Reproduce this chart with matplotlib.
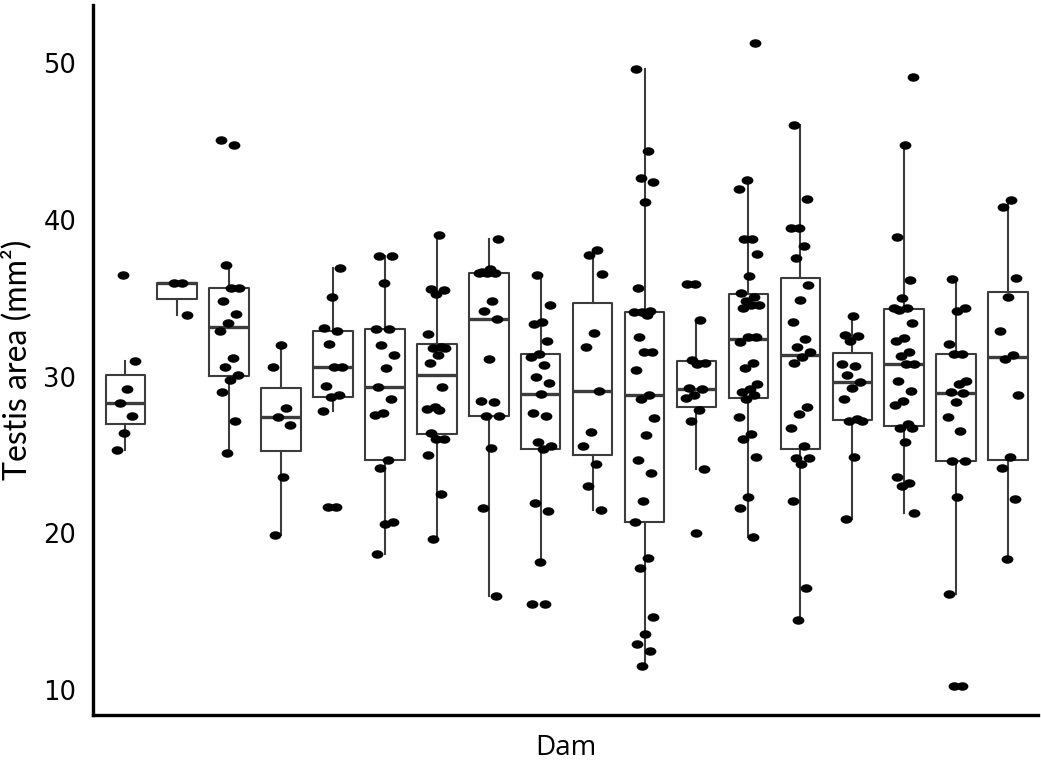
import numpy as np
import matplotlib
matplotlib.use("Agg")
import matplotlib.pyplot as plt
from matplotlib.path import Path
from matplotlib.transforms import Affine2D

# testis area (mm2) per dam
dam1 = [36.5, 31.0, 29.2, 28.3, 27.5, 26.4, 25.3]
dam2 = [36.0, 36.0, 33.9]
dam3 = [45.1, 44.8, 37.1, 35.65, 35.65, 34.8, 34.0, 33.4, 32.9, 31.2, 30.6, 30.1, 29.8, 29.0, 27.2, 25.1]
dam4 = [32.0, 30.6, 28.0, 27.4, 26.9, 23.6, 19.9]
dam5 = [36.9, 35.1, 33.1, 32.9, 32.1, 30.6, 30.6, 29.4, 28.85, 28.7, 27.8, 21.7, 21.7]
dam6 = [37.7, 37.7, 36.0, 33.05, 33.05, 32.0, 31.35, 30.55, 29.35, 28.55, 27.7, 27.55, 24.7, 24.2, 20.7, 20.6, 18.7]
dam7 = [39.0, 35.6, 35.5, 35.3, 32.7, 31.9, 31.8, 31.8, 31.4, 30.85, 29.35, 28.05, 27.95, 27.85, 26.4,
        26.05, 26.05, 25.0, 22.5, 19.65]
dam8 = [38.75, 36.85, 36.7, 36.6, 36.6, 36.6, 34.8, 34.2, 33.7, 31.15, 28.45, 28.35, 27.5, 27.5, 25.45, 21.65, 16.0]
dam9 = [36.5, 34.55, 33.5, 33.35, 32.3, 31.45, 31.25, 30.75, 30.0, 29.6, 28.9, 27.7, 27.5, 25.8, 25.6, 25.4,
        21.95, 21.4, 18.2, 15.5, 15.5]
dam10 = [38.05, 37.75, 36.55, 32.8, 31.9, 29.1, 26.5, 25.55, 24.4, 23.0, 21.5]
dam11 = [49.6, 44.4, 42.65, 42.4, 41.15, 35.65, 34.2, 34.1, 34.1, 33.95, 32.55, 31.6, 31.6, 30.45, 28.85, 28.6,
         27.35, 26.3, 24.7, 23.85, 22.05, 20.75, 18.45, 17.8, 14.7, 13.6, 12.95, 12.5, 11.55]
dam12 = [35.9, 35.9, 33.6, 31.05, 30.9, 30.8, 29.25, 29.2, 28.8, 28.65, 27.9, 27.15, 24.1, 20.0]
dam13 = [51.3, 42.55, 41.95, 38.8, 38.75, 37.85, 36.4, 35.35, 35.05, 34.85, 34.55, 34.55, 34.4, 32.55, 32.55,
         32.2, 30.85, 30.55, 29.55, 29.2, 29.0, 28.8, 28.6, 27.4, 26.35, 26.05, 24.85, 22.35, 21.65, 19.75]
dam14 = [46.05, 41.35, 39.45, 39.45, 38.35, 37.55, 35.85, 34.9, 33.5, 32.4, 31.9, 31.55, 31.25, 30.9, 28.05,
         27.6, 26.7, 25.55, 24.8, 24.8, 24.4, 22.05, 16.55, 14.45]
dam15 = [33.85, 32.65, 32.6, 32.25, 30.8, 30.7, 30.1, 29.65, 29.3, 28.6, 27.3, 27.2, 27.2, 24.9, 20.9]
dam16 = [49.1, 44.8, 38.9, 36.15, 35.0, 34.4, 34.4, 34.25, 33.45, 32.45, 32.25, 31.55, 31.3, 30.8, 30.8, 29.75,
         29.1, 28.45, 28.2, 27.0, 26.7, 26.7, 25.8, 23.6, 23.2, 23.05, 21.3]
dam17 = [36.25, 34.4, 34.2, 32.05, 31.45, 31.45, 29.7, 29.55, 29.0, 28.95, 28.35, 27.4, 26.55, 24.65, 24.65,
         22.3, 16.15, 10.3, 10.3]
dam18 = [41.25, 40.8, 36.3, 35.1, 32.9, 31.35, 31.1, 28.85, 24.85, 24.15, 22.2, 18.4]

dams = [dam1, dam2, dam3, dam4, dam5, dam6, dam7, dam8, dam9, dam10,
        dam11, dam12, dam13, dam14, dam15, dam16, dam17, dam18]
yticks = [10, 20, 30, 40, 50]

box_color = "#3c3c3c"

fig = plt.figure(figsize=(10.41, 7.68), dpi=100)
ax = fig.add_axes([0.0893, 0.069, 0.908, 0.9245])

positions = np.arange(1, len(dams) + 1)
ax.boxplot(dams, positions=positions, widths=0.76, showfliers=False, showcaps=False,
           boxprops=dict(color=box_color, linewidth=1.5),
           whiskerprops=dict(color=box_color, linewidth=1.5),
           medianprops=dict(color=box_color, linewidth=2.4))

# slightly flattened dots, like the original
dot = Path.unit_circle().transformed(Affine2D().scale(1.0, 0.72))

# deterministic horizontal spread of the points
for pos, vals in zip(positions, dams):
    k = np.arange(len(vals))
    jitter = ((k * 0.618034 + pos * 0.37) % 1.0 - 0.5) * 0.4
    ax.scatter(pos + jitter, vals, s=72, marker=dot, color="black", linewidths=0, zorder=3)

ax.set_xlim(0.378, 18.58)
ax.set_ylim(8.42, 53.7)
ax.set_xticks([])
ax.set_yticks(yticks)
ax.tick_params(axis="y", length=0, pad=12, labelsize=18.5)

for side in ["top", "right"]:
    ax.spines[side].set_visible(False)
for side in ["left", "bottom"]:
    ax.spines[side].set_linewidth(2.4)
    ax.spines[side].set_color("black")

ax.set_ylabel("Testis area (mm²)", fontsize=23, family="Lato", labelpad=8)
ax.set_xlabel("Dam", fontsize=20, family="Open Sans", labelpad=14)

fig.savefig("out.png", dpi=100)
